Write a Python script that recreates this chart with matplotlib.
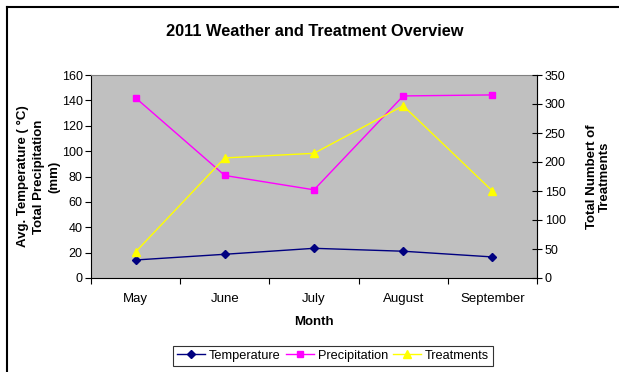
import matplotlib.pyplot as plt
from matplotlib.lines import Line2D

plt.rcParams['font.family'] = ['Liberation Sans', 'DejaVu Sans']

months = ["May", "June", "July", "August", "September"]
temperature = [14.2, 18.7, 23.4, 21.1, 16.6]
precipitation = [142, 80.8, 69.5, 143.5, 144.3]
treatments = [45, 207, 215, 297, 150]

fig = plt.figure(figsize=(6.19, 3.72), dpi=100)
ax = fig.add_axes([91 / 619, 1 - 278 / 372, (537 - 91) / 619, (278 - 75) / 372])
ax.set_facecolor('#C0C0C0')

x = list(range(len(months)))
ax.plot(x, temperature, color='#000080', marker='D', markersize=4, lw=1, label='Temperature')
ax.plot(x, precipitation, color='#FF00FF', marker='s', markersize=5, lw=1, label='Precipitation')

ax2 = ax.twinx()
ax2.plot(x, treatments, color='#FFFF00', marker='^', markersize=6, lw=1, label='Treatments')

ax.set_xlim(-0.5, len(months) - 0.5)
ax.set_ylim(0, 160)
ax.set_yticks(range(0, 161, 20))
ax2.set_ylim(0, 350)
ax2.set_yticks(range(0, 351, 50))

# category axis: ticks fall between months, labels sit at the centres
ax.set_xticks([i - 0.5 for i in range(len(months) + 1)])
ax.set_xticklabels([])
ax.set_xticks(x, minor=True)
ax.set_xticklabels(months, minor=True, fontsize=9.5)
ax.tick_params(axis='x', which='minor', length=0, pad=11)
ax.tick_params(axis='x', which='major', direction='out', length=4, width=0.8)
ax.tick_params(axis='y', direction='out', length=4, width=0.8, labelsize=9, pad=2)
ax2.tick_params(axis='y', direction='inout', length=7, width=0.8, labelsize=9, pad=2)

for sp in ('top', 'right'):
    ax.spines[sp].set_color('#808080')
ax2.spines['top'].set_visible(False)
ax2.spines['left'].set_visible(False)
ax2.spines['bottom'].set_visible(False)
ax2.spines['right'].set_color('black')

ax.set_xlabel('Month', fontsize=9.5, fontweight='bold', labelpad=8)
ax.set_ylabel('Avg. Temperature ( \u00b0C)\nTotal Precipitation\n(mm)', fontsize=9.5,
              fontweight='bold', linespacing=1.4, labelpad=1)
ax2.set_ylabel('Total Numbert of\nTreatments', fontsize=9.5, fontweight='bold',
               linespacing=1.1, labelpad=15)

fig.text(315 / 619, 1 - 31 / 372, '2011 Weather and Treatment Overview',
         ha='center', va='center', fontsize=11.8, fontweight='bold')

handles = ax.get_lines() + ax2.get_lines()
leg = fig.legend(handles, [h.get_label() for h in handles], ncol=3,
                 loc='upper center', bbox_to_anchor=(333 / 619, 1 - 346 / 372),
                 fontsize=9.2, frameon=True, fancybox=False, edgecolor='black',
                 handlelength=2.2, handletextpad=0.3, columnspacing=0.4,
                 borderpad=0.3, borderaxespad=0)
leg.get_frame().set_linewidth(0.8)

# chart border along the top and left edge
fig.add_artist(Line2D([7 / 619, 1], [1 - 7 / 372, 1 - 7 / 372], color='black', lw=1.5))
fig.add_artist(Line2D([7 / 619, 7 / 619], [0, 1 - 7 / 372], color='black', lw=1.5))

fig.savefig('out.png', dpi=100)
